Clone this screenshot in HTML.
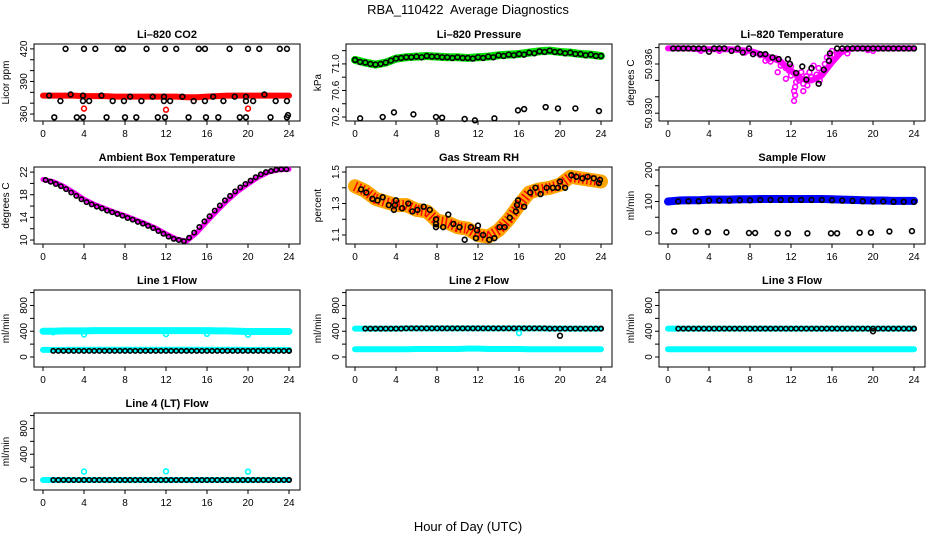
<!DOCTYPE html>
<html><head><meta charset="utf-8"><style>
html,body{margin:0;padding:0;background:#fff}
svg{display:block;font-family:"Liberation Sans",Arial,sans-serif}
</style></head><body>
<svg id="chart" width="936" height="540" viewBox="0 0 936 540">
<text x="468" y="14" text-anchor="middle" font-size="13" style="white-space:pre" xml:space="preserve">RBA_110422  Average Diagnostics</text>
<text x="468" y="531" text-anchor="middle" font-size="13">Hour of Day (UTC)</text>
</svg>
<script>
// ---------- data ----------
const xTicks = [0,4,8,12,16,20,24];
const hours = [0,1,2,3,4,5,6,7,8,9,10,11,12,13,14,15,16,17,18,19,20,21,22,23,24];
const halfHours = [0.5,1,1.5,2,2.5,3,3.5,4,4.5,5,5.5,6,6.5,7,7.5,8,8.5,9,9.5,10,10.5,11,11.5,12,12.5,13,13.5,14,14.5,15,15.5,16,16.5,17,17.5,18,18.5,19,19.5,20,20.5,21,21.5,22,22.5,23,23.5,24];

// CO2
const co2Red = [377,377,377,377,376.5,376.5,376.5,376,376,376,376,376,376,376,375.5,375.5,376,376.5,377,377,377,377,377,377,377];
const co2RedOut = [[4,365],[12,364],[20,365]];
const co2Black = [[2.2,420],[4,420],[5.1,420],[7.3,420],[7.8,420],[10.1,420],[11.9,420],[13,420],[15.2,420],[15.8,420],[18.2,420],[20,420],[21.1,420],[23.1,420],[23.8,420],
 [1.7,372],[3.9,372],[4.5,372],[6.8,372],[7.9,372],[9.6,372],[11.8,372],[12.4,372],[14.7,372],[15.8,372],[17.6,372],[19.8,372],[20.5,372],[22.7,372],[23.8,372],
 [1.1,357],[3.3,357],[3.9,357],[6.2,357],[8,357],[9.1,357],[11.2,357],[11.9,357],[14.2,357],[15.9,357],[17.1,357],[19.2,357],[19.8,357],[22.2,357],[23.8,357],[23.9,359],
 [0.6,377],[2.7,378],[3.9,377],[5.7,377],[8.5,376],[10.7,376],[11.8,376],[13.6,376],[16.6,376],[18.7,376],[19.8,376],[21.6,378]];

// Pressure
const presGreen = [71.06,71.02,70.99,71.02,71.08,71.10,71.11,71.12,71.11,71.10,71.10,71.09,71.10,71.11,71.13,71.14,71.15,71.17,71.19,71.20,71.18,71.17,71.15,71.14,71.12];
const presBlackHalf = [71.03,71.0,71.0,71.05,71.09,71.1,71.1,71.11,71.1,71.09,71.09,71.08,71.09,71.1,71.12,71.13,71.14,71.16,71.18,71.18,71.16,71.15,71.13,71.12];
const presLow = [[0.5,70.18],[2.7,70.2],[3.8,70.27],[5.7,70.24],[7.9,70.2],[8.5,70.19],[10.7,70.17],[11.7,70.15],[13.6,70.18],[15.9,70.3],[16.5,70.32],[18.6,70.35],[19.8,70.33],[21.5,70.33],[23.8,70.29]];

// Li-820 temperature
const tempMag = [50.9379,50.9379,50.9379,50.9378,50.9378,50.9378,50.9378,50.9377,50.9376,50.9372,50.9368,50.9363,50.9352,50.9342,50.9340,50.9346,50.9362,50.9376,50.9379,50.9379,50.9379,50.9379,50.9379,50.9379,50.9379];
const tempMagPts = [[8.5,50.9374],[9,50.9371],[9.8,50.9366],[10,50.9363],[10.5,50.9367],[11,50.9358],[11.2,50.936],[11.5,50.9355],[11.8,50.9352],[12,50.9346],[12.2,50.935],[12.4,50.9332],[12.5,50.9338],[12.6,50.9345],[12.8,50.934],[13,50.935],[13.2,50.9336],[13.5,50.9345],[13.8,50.935],[14,50.9344],[14.2,50.9358],[14.5,50.9347],[14.7,50.9355],[15,50.935],[15.3,50.936],[15.5,50.9368],[15.8,50.937],[16,50.9376],[16.5,50.9372],[17,50.9375],[17.5,50.9373],[12.3,50.9327],[11.5,50.9342],[10.7,50.935],[9.5,50.9364],[13.6,50.9334],[14.8,50.934],[12.0,50.9357],[3.2,50.9376],[5,50.9376],[7.5,50.9374],[19.5,50.9377],[20,50.9376],[12.3,50.9315],[12.4,50.9322],[13.2,50.9327]];
const tempBlack = [[0.5,50.9379],[1,50.9379],[1.5,50.9379],[2,50.9379],[2.5,50.9379],[3,50.9379],[3.5,50.9379],[4,50.9375],[4.5,50.9379],[5,50.9379],[5.5,50.9379],[6.2,50.9376],[6.8,50.9379],[7.3,50.9374],[7.9,50.9379],[8.3,50.9372],[9,50.9372],[9.5,50.9372],[10.2,50.9368],[10.8,50.9366],[11.7,50.9366],[11.9,50.936],[12.5,50.9349],[13.1,50.9357],[13.5,50.9341],[14,50.9355],[14.7,50.9336],[15.2,50.9353],[15.7,50.9364],[15.8,50.9373],[16.5,50.9379],[17,50.9379],[17.5,50.9379],[18,50.9379],[18.5,50.9379],[19,50.9379],[19.5,50.9379],[20,50.9379],[20.5,50.9379],[21,50.9379],[21.5,50.9379],[22,50.9379],[22.5,50.9379],[23,50.9379],[23.5,50.9379],[24,50.9379]];

// Ambient box temperature
const ambMag = [20.7,20.3,19.5,18.4,17.2,16.3,15.6,14.9,14.3,13.6,12.9,12.1,11.1,10.2,9.8,11.3,13.3,15.2,17.0,18.6,19.9,21.1,22.0,22.4,22.5];
const ambBlack = [20.6,20.3,19.9,19.5,19.0,18.4,17.8,17.2,16.7,16.3,15.9,15.6,15.2,14.9,14.6,14.3,13.9,13.6,13.2,12.9,12.5,12.1,11.6,11.1,10.6,10.2,10.0,9.8,10.4,11.3,12.3,13.3,14.2,15.2,16.1,17.0,17.8,18.6,19.3,19.9,20.5,21.1,21.6,22.0,22.2,22.4,22.5,22.5];

// Gas stream RH
const rhBand = [1.41,1.38,1.33,1.31,1.29,1.29,1.26,1.25,1.19,1.18,1.15,1.14,1.10,1.09,1.13,1.20,1.29,1.37,1.39,1.40,1.42,1.47,1.46,1.45,1.44];
const rhBlack = [[0.6,1.39],[1.1,1.37],[1.7,1.33],[2.2,1.32],[2.7,1.34],[3.3,1.29],[3.8,1.26],[3.9,1.29],[4.0,1.32],[4.6,1.27],[5.2,1.30],[5.6,1.25],[6.1,1.26],[6.7,1.28],[7.3,1.26],[7.9,1.15],[7.9,1.2],[7.9,1.17],[8.6,1.15],[9.1,1.23],[9.6,1.17],[10.2,1.15],[10.7,1.07],[11.3,1.15],[11.8,1.08],[11.9,1.13],[12,1.16],[12.5,1.1],[13.1,1.07],[13.6,1.08],[14.1,1.15],[14.6,1.15],[15.1,1.21],[15.7,1.25],[15.8,1.29],[15.9,1.32],[16.5,1.28],[17.1,1.37],[17.6,1.40],[18.1,1.36],[18.7,1.40],[19.3,1.40],[19.8,1.40],[20,1.44],[20.5,1.40],[21.1,1.48],[21.6,1.47],[22.2,1.46],[22.7,1.47],[23.3,1.46],[23.8,1.43],[23.9,1.45]];

// Sample flow
const sfBlue = [100,103,104,104,106,106,106,107,107,108,108,108,108,108,108,108,107,106,105,104,103,103,102,102,102];
const sfLow = [[0.6,5],[2.7,5],[3.9,3],[5.7,2],[7.9,0],[8.5,0],[10.7,-1],[11.7,-1],[13.6,-1],[15.9,-1],[16.5,-1],[18.7,1],[19.8,1],[21.6,5],[23.8,6]];

// Line flows
const l1Top = [400,400,405,405,405,410,410,410,410,410,410,410,410,410,410,410,410,405,405,400,395,395,395,395,395];
const l1TopOut = [[1,385],[4,350],[12,355],[16,360],[20,345]];
const l1Bot = [110,110,110,112,112,112,112,112,112,112,112,112,112,112,112,112,112,112,112,112,110,110,110,110,110];
const l1Black = [95,95,95,95,95,95,95,95,95,95,95,95,95,95,95,95,95,95,95,95,95,95,95,95,95];
const l2Top = [440,440,440,440,440,445,445,445,445,445,445,445,445,445,445,445,445,445,445,440,440,440,440,440,440];
const l2Bot = [120,120,120,120,120,120,125,125,125,125,125,130,130,125,125,125,125,120,120,120,120,120,120,120,120];
const l2Out = [[16,370,'#00ffff'],[20,330,'#000']];
const l3Top = [440,440,440,440,440,440,440,440,440,440,440,440,440,440,440,440,440,440,440,440,440,440,440,440,440];
const l3Bot = [120,120,120,120,120,120,120,120,120,120,120,120,120,120,120,120,120,120,120,120,120,120,120,120,120];
const l3Out = [[20,400,'#000']];
const l4Val = [0,0,0,0,0,0,0,0,0,0,0,0,0,0,0,0,0,0,0,0,0,0,0,0,0];
const l4Out = [[4,130],[12,135],[20,130]];

// ---------- drawing ----------
const NS = 'http://www.w3.org/2000/svg';
const svg = document.getElementById('chart');
function mk(tag, attrs, parent){const e=document.createElementNS(NS,tag);for(const k in attrs)e.setAttribute(k,attrs[k]);(parent||svg).appendChild(e);return e;}
const colX0 = [43,355,668];
const rowTop = [44,167,290,413];
const PXH = 10.25;

function panel(name, col, row, yTop, yBot, ticks, labels, title, ytitle){
  const g = mk('g',{});
  
  
  const x0 = colX0[col], top = rowTop[row], bot = top+77, left = x0-9, right = x0+257;
  const X = h => x0 + h*PXH;
  const Y = v => bot - (v - yBot)/(yTop - yBot)*77;
  const box = mk('rect',{x:left,y:top,width:right-left,height:77,fill:'none',stroke:'#000','stroke-width':1},g);
  
  
  const t = mk('text',{x:(left+right)/2,y:top-6,'text-anchor':'middle','font-size':11,'font-weight':'bold'},g);
  t.textContent = title;
  
  
  const yt = mk('text',{x:left-25,y:(top+bot)/2,'text-anchor':'middle','font-size':10,transform:`rotate(-90 ${left-25} ${(top+bot)/2})`},g);
  yt.textContent = ytitle;
  
  
  xTicks.forEach(h=>{
    mk('line',{x1:X(h),x2:X(h),y1:bot,y2:bot+4,stroke:'#000'},g);
    const l = mk('text',{x:X(h),y:bot+16,'text-anchor':'middle','font-size':10},g);
    l.textContent = h;
    
    
  });
  ticks.forEach(v=>{
    const y=Y(v);
    mk('line',{x1:left-4,x2:left,y1:y,y2:y,stroke:'#000'},g);
  });
  labels.forEach(v=>{
    const y=Y(v);
    const l = mk('text',{x:left-7,y:y,'text-anchor':'middle','font-size':10,transform:`rotate(-90 ${left-7} ${y})`},g);
    l.textContent = v;
    
    
  });
  return {g,X,Y};
}
function circ(p, h, v, color, r){
  const c = mk('circle',{cx:p.X(h),cy:p.Y(v),r:r||2.4,fill:'none',stroke:color,'stroke-width':1.6},p.g);
  
  
  return c;
}
function band(p, hs, vals, color, w){
  const pts = hs.map((h,i)=>p.X(h)+','+p.Y(vals[i])).join(' ');
  const l = mk('polyline',{points:pts,fill:'none',stroke:color,'stroke-width':w,'stroke-linejoin':'round','stroke-linecap':'round'},p.g);
  
  
  return l;
}

// 1 CO2
let p = panel('co2',0,0,424.5,353.6,[360,370,380,390,400,410,420],['360','390','420'],'Li\u2013820 CO2','Licor ppm');
band(p,hours,co2Red,'#ff0000',6);
co2RedOut.forEach(d=>circ(p,d[0],d[1],'#ff0000'));
co2Black.forEach(d=>circ(p,d[0],d[1],'#000'));

// 2 Pressure
p = panel('pressure',1,0,71.30,70.14,[70.2,70.4,70.6,70.8,71.0,71.2],['70.2','70.6','71.0'],'Li\u2013820 Pressure','kPa');
band(p,hours,presGreen,'#00e000',8);
hours.forEach((h,i)=>circ(p,h,presGreen[i],'#000'));
presBlackHalf.forEach((v,i)=>circ(p,hours[i]+0.5,v,'#000'));
presLow.forEach(d=>circ(p,d[0],d[1],'#000'));

// 3 Temperature
p = panel('li820-temp',2,0,50.93844,50.92905,[50.930,50.932,50.934,50.936,50.938],['50.930','50.936'],'Li\u2013820 Temperature','degrees C');
band(p,hours,tempMag,'#ff00ff',6);
tempMagPts.forEach(d=>circ(p,d[0],d[1],'#ff00ff'));
tempBlack.forEach(d=>circ(p,d[0],d[1],'#000'));

// 4 Ambient
p = panel('ambient-temp',0,1,22.9,9.3,[10,12,14,16,18,20,22],['10','14','18','22'],'Ambient Box Temperature','degrees C');
band(p,hours,ambMag,'#ff00ff',5);
ambBlack.forEach((v,i)=>circ(p,halfHours[i]-0.25,v,'#000',2.2));

// 5 RH
p = panel('gas-rh',1,1,1.532,1.043,[1.1,1.2,1.3,1.4,1.5],['1.1','1.3','1.5'],'Gas Stream RH','percent');
band(p,hours,rhBand,'#ffa500',14);
const dots = band(p,hours,rhBand,'#ff0000',10);
dots.setAttribute('stroke-dasharray','1.5 2.5');
dots.setAttribute('stroke-linecap','butt');
rhBlack.forEach(d=>circ(p,d[0],d[1],'#000'));

// 6 Sample flow
p = panel('sample-flow',2,1,209.5,-34.9,[0,50,100,150,200],['0','100','200'],'Sample Flow','ml/min');
band(p,hours,sfBlue,'#0000ff',8);
hours.forEach((h,i)=>{ if(h>0.5) circ(p,h,sfBlue[i]-3,'#000'); });
sfLow.forEach(d=>circ(p,d[0],d[1],'#000'));

// Line flows
const flowTicks=[0,200,400,600,800,1000], flowLabels=['0','400','800'];
p = panel('line1-flow',0,2,1040,-155,flowTicks,flowLabels,'Line 1 Flow','ml/min');
band(p,hours,l1Top,'#00ffff',7);
l1TopOut.forEach(d=>circ(p,d[0],d[1],'#00ffff'));
band(p,hours,l1Bot,'#00ffff',6);
hours.forEach((h,i)=>{ if(h>0.3){circ(p,h,l1Black[i],'#000',2.2);circ(p,h+0.5>24?24:h+0.5,l1Black[i],'#000',2.2);} });

p = panel('line2-flow',1,2,1040,-155,flowTicks,flowLabels,'Line 2 Flow','ml/min');
band(p,hours,l2Top,'#00ffff',6);
band(p,hours,l2Bot,'#00ffff',6);
hours.forEach((h,i)=>{ if(h>0.3){circ(p,h,l2Top[i],'#000',2.2);circ(p,h+0.5>24?24:h+0.5,l2Top[i],'#000',2.2);} });
l2Out.forEach(d=>circ(p,d[0],d[1],d[2]));

p = panel('line3-flow',2,2,1040,-155,flowTicks,flowLabels,'Line 3 Flow','ml/min');
band(p,hours,l3Top,'#00ffff',6);
band(p,hours,l3Bot,'#00ffff',6);
hours.forEach((h,i)=>{ if(h>0.3){circ(p,h,l3Top[i],'#000',2.2);circ(p,h+0.5>24?24:h+0.5,l3Top[i],'#000',2.2);} });
l3Out.forEach(d=>circ(p,d[0],d[1],d[2]));

p = panel('line4-flow',0,3,1040,-155,flowTicks,flowLabels,'Line 4 (LT) Flow','ml/min');
band(p,hours,l4Val,'#00ffff',6);
hours.forEach((h,i)=>{ if(h>0.3){circ(p,h,l4Val[i],'#000',2.2);circ(p,h+0.5>24?24:h+0.5,l4Val[i],'#000',2.2);} });
l4Out.forEach(d=>circ(p,d[0],d[1],'#00ffff'));
</script>
</body></html>
